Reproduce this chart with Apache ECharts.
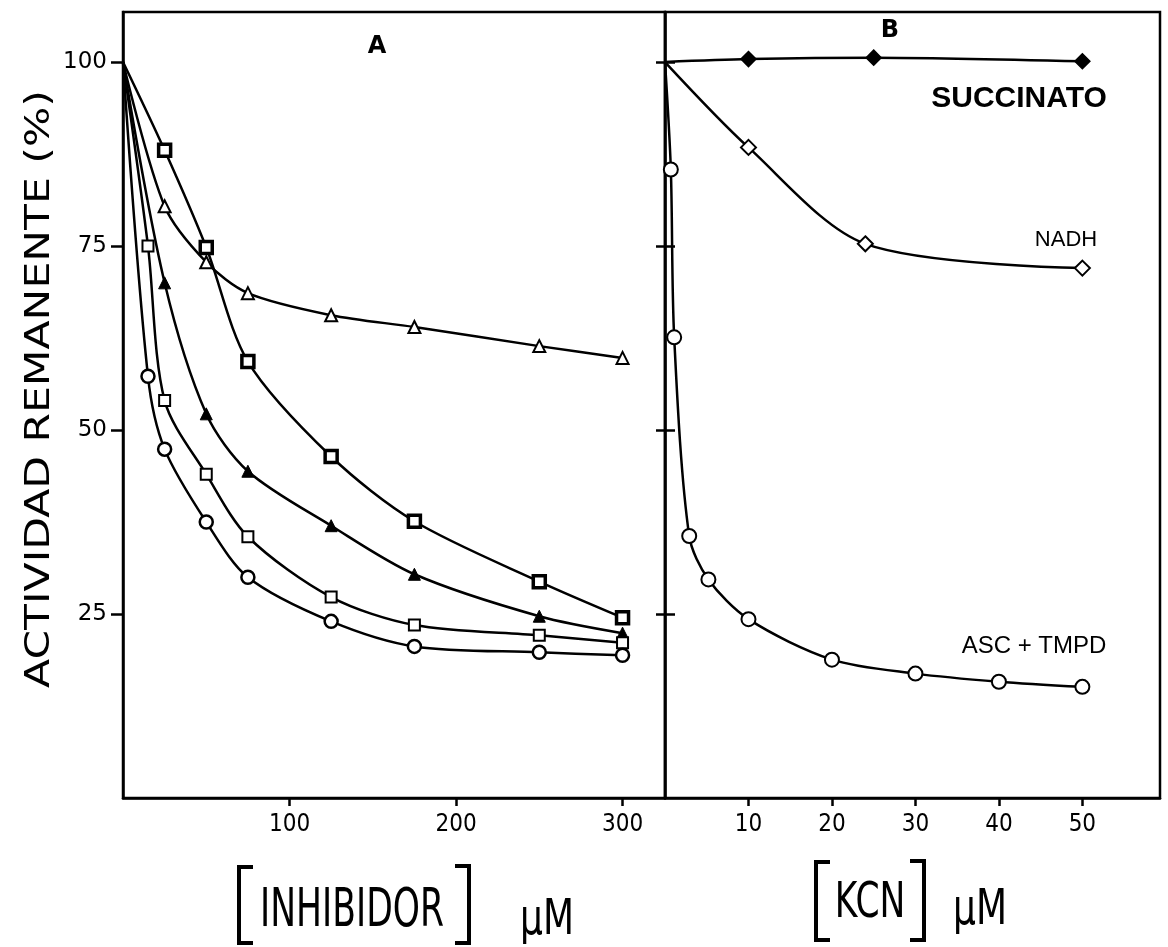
<!DOCTYPE html>
<html>
<head>
    <meta charset="utf-8" />
    <title>Actividad remanente</title>
    <script src="https://cdn.jsdelivr.net/npm/echarts@6/dist/echarts.min.js"></script>
    <style>
        html, body { margin: 0; padding: 0; background: #fff; }
        #chart { width: 1168px; height: 947px; }
    </style>
</head>
<body>
    <div id="chart"></div>
    <script type="text/javascript">
        // panel A: inhibidor (uM) vs actividad remanente (%)
        var inhX = [0, 25, 50, 75, 125, 175, 250, 300];
        var inhX2 = [0, 15, 25, 50, 75, 125, 175, 250, 300];
        var sqFilledY = [100, 88, 74.8, 59.3, 46.4, 37.6, 29.4, 24.5];
        var triOpenY = [100, 80.4, 72.8, 68.6, 65.6, 64, 61.4, 59.8];
        var triFilledY = [100, 70, 52.2, 44.4, 37, 30.4, 24.7, 22.4];
        var sqOpenY = [100, 75, 54, 44, 35.5, 27.3, 23.5, 22.1, 21.1];
        var circleY = [100, 57.3, 47.4, 37.5, 30, 24, 20.6, 19.8, 19.4];

        // panel B: KCN (uM)
        var succX = [0, 10, 25, 50];
        var succY = [100, 100.4, 100.6, 100.1];
        var nadhX = [0, 10, 24, 50];
        var nadhY = [100, 88.4, 75.3, 72];
        var ascX = [0, 0.7, 1.1, 2.9, 5.2, 10, 20, 30, 40, 50];
        var ascY = [100, 85.4, 62.6, 35.6, 29.7, 24.3, 18.8, 16.9, 15.8, 15.1];

        // tick values
        var yTickVals = [25, 50, 75, 100];
        var xTicksA = [100, 200, 300];
        var xTicksB = [10, 20, 30, 40, 50];
        var yMax = 106.8;

        function pts(xs, ys) {
            var out = [];
            for (var i = 0; i < xs.length; i++) {
                if (i == 0) {
                    out.push({ value: [xs[i], ys[i]], symbol: 'none' });
                } else {
                    out.push([xs[i], ys[i]]);
                }
            }
            return out;
        }

        function curve(name, xs, ys, symbol, size, fill, border, ax) {
            return {
                name: name,
                type: 'line',
                xAxisIndex: ax,
                yAxisIndex: ax,
                data: pts(xs, ys),
                smooth: 0.3,
                symbol: symbol,
                symbolSize: size,
                lineStyle: { color: '#000', width: 2.5 },
                itemStyle: { color: fill, borderColor: '#000', borderWidth: border }
            };
        }

        var chart = echarts.init(document.getElementById('chart'));

        var axisFont = 'DejaVu Sans Condensed';
        var line = { color: '#000', width: 2.5 };
        var option = {
            animation: false,
            backgroundColor: '#fff',
            grid: [
                { left: 123, top: 12, width: 542, height: 786, show: true, borderColor: '#000', borderWidth: 2.5 },
                { left: 665, top: 12, width: 495, height: 786, show: true, borderColor: '#000', borderWidth: 2.5 }
            ],
            xAxis: [
                {
                    gridIndex: 0, type: 'value', min: 0, max: 325.5,
                    splitLine: { show: false },
                    axisLine: { lineStyle: line },
                    axisTick: { length: 8, lineStyle: line, customValues: xTicksA },
                    axisLabel: {
                        color: '#000', fontFamily: axisFont, fontSize: 24, margin: 15,
                        customValues: xTicksA
                    }
                },
                {
                    gridIndex: 1, type: 'value', min: 0, max: 59.3,
                    splitLine: { show: false },
                    axisLine: { lineStyle: line },
                    axisTick: { length: 8, lineStyle: line, customValues: xTicksB },
                    axisLabel: {
                        color: '#000', fontFamily: axisFont, fontSize: 24, margin: 15,
                        customValues: xTicksB
                    }
                }
            ],
            yAxis: [
                {
                    gridIndex: 0, type: 'value', min: 0, max: yMax,
                    splitLine: { show: false },
                    axisLine: { lineStyle: line },
                    axisTick: { length: 12, lineStyle: line, customValues: yTickVals },
                    axisLabel: {
                        color: '#000', fontFamily: 'DejaVu Sans', fontSize: 23, margin: 16,
                        customValues: yTickVals
                    }
                },
                {
                    gridIndex: 1, type: 'value', min: 0, max: yMax, position: 'left',
                    splitLine: { show: false },
                    axisLine: { lineStyle: line },
                    axisTick: { length: 9, lineStyle: line, customValues: yTickVals },
                    axisLabel: { show: false }
                },
                {
                    gridIndex: 1, type: 'value', min: 0, max: yMax, position: 'left',
                    splitLine: { show: false },
                    axisLine: { show: false },
                    axisTick: { inside: true, length: 10, lineStyle: line, customValues: yTickVals },
                    axisLabel: { show: false }
                }
            ],
            series: [
                curve('sqFilled', inhX, sqFilledY, 'rect', 12, '#fff', 3.5, 0),
                curve('triOpen', inhX, triOpenY, 'triangle', 12, '#fff', 2, 0),
                curve('triFilled', inhX, triFilledY, 'triangle', 12, '#000', 1, 0),
                curve('sqOpen', inhX2, sqOpenY, 'rect', 11, '#fff', 2, 0),
                curve('circle', inhX2, circleY, 'circle', 13, '#fff', 2.5, 0),
                curve('SUCCINATO', succX, succY, 'diamond', 15, '#000', 1.5, 1),
                curve('NADH', nadhX, nadhY, 'diamond', 15, '#fff', 2, 1),
                curve('ASC + TMPD', ascX, ascY, 'circle', 14, '#fff', 2, 1)
            ],
            graphic: [
                { type: 'text', x: 377, y: 47, style: { text: 'A', font: 'bold 24px "DejaVu Sans"', fill: '#000', textAlign: 'center', textVerticalAlign: 'middle' } },
                { type: 'text', x: 890, y: 31, style: { text: 'B', font: 'bold 24px "DejaVu Sans"', fill: '#000', textAlign: 'center', textVerticalAlign: 'middle' } },
                { type: 'text', x: 1019, y: 99, style: { text: 'SUCCINATO', font: 'bold 30px "Liberation Sans"', fill: '#000', textAlign: 'center', textVerticalAlign: 'middle' } },
                { type: 'text', x: 1066, y: 240, style: { text: 'NADH', font: '22px "Liberation Sans"', fill: '#000', textAlign: 'center', textVerticalAlign: 'middle' } },
                { type: 'text', x: 1034, y: 646, style: { text: 'ASC + TMPD', font: '24px "Liberation Sans"', fill: '#000', textAlign: 'center', textVerticalAlign: 'middle' } },
                {
                    type: 'text', x: 40, y: 389, rotation: Math.PI / 2, scaleX: 1.25,
                    style: { text: 'ACTIVIDAD REMANENTE (%)', font: '34px "DejaVu Sans"', fill: '#000', textAlign: 'center', textVerticalAlign: 'middle' }
                },
                // [INHIBIDOR] uM
                { type: 'polyline', shape: { points: [[253, 867], [239, 867], [239, 943], [253, 943]] }, style: { stroke: '#000', lineWidth: 4, fill: null } },
                { type: 'polyline', shape: { points: [[455, 866], [469, 866], [469, 943], [455, 943]] }, style: { stroke: '#000', lineWidth: 4, fill: null } },
                { type: 'text', x: 352, y: 939, scaleX: 0.64, style: { text: 'INHIBIDOR', font: '54px "DejaVu Sans"', fill: '#000', textAlign: 'center', textVerticalAlign: 'bottom' } },
                { type: 'text', x: 520, y: 946, scaleX: 0.72, style: { text: 'μM', font: '50px "DejaVu Sans"', fill: '#000', textAlign: 'left', textVerticalAlign: 'bottom' } },
                // [KCN] uM
                { type: 'polyline', shape: { points: [[830, 862], [816, 862], [816, 940], [830, 940]] }, style: { stroke: '#000', lineWidth: 4, fill: null } },
                { type: 'polyline', shape: { points: [[910, 861], [924, 861], [924, 940], [910, 940]] }, style: { stroke: '#000', lineWidth: 4, fill: null } },
                { type: 'text', x: 870, y: 929, scaleX: 0.69, style: { text: 'KCN', font: '50px "DejaVu Sans"', fill: '#000', textAlign: 'center', textVerticalAlign: 'bottom' } },
                { type: 'text', x: 953, y: 936, scaleX: 0.72, style: { text: 'μM', font: '50px "DejaVu Sans"', fill: '#000', textAlign: 'left', textVerticalAlign: 'bottom' } }
            ]
        };
        chart.setOption(option);
    </script>
</body>
</html>
